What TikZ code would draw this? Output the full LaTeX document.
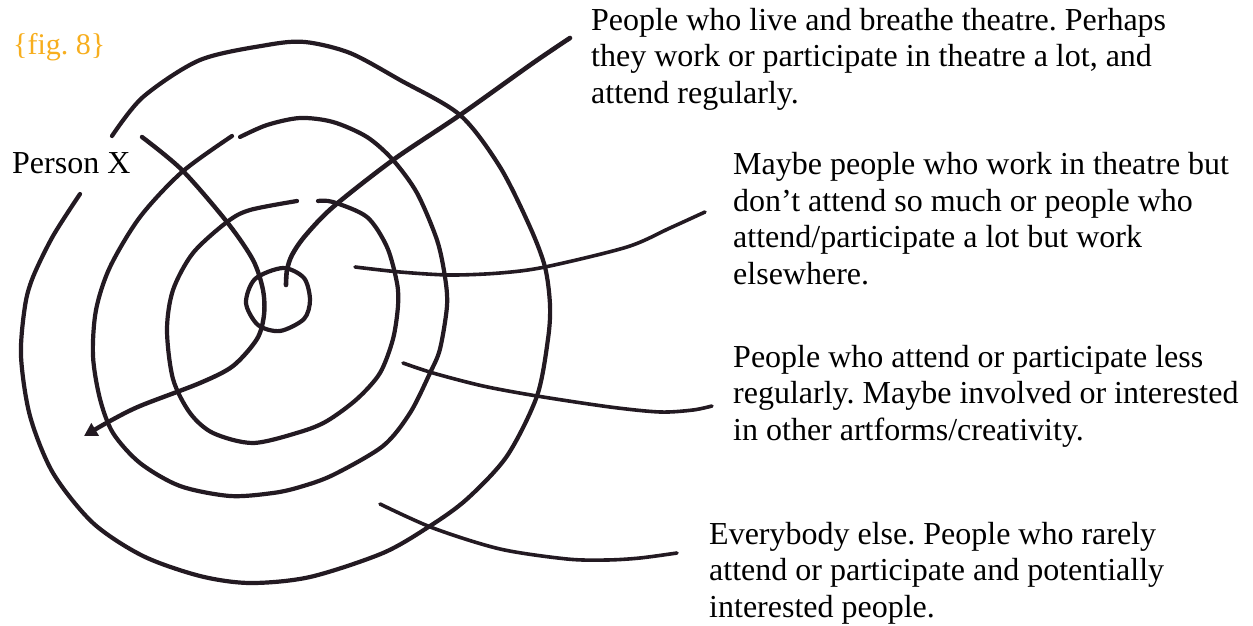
\documentclass[tikz,border=0pt]{standalone}
\usepackage{fontspec}
\setmainfont{Liberation Serif}
\usetikzlibrary{arrows.meta}
\definecolor{ink}{HTML}{231A22}
\definecolor{figorange}{HTML}{F7AE1E}
\frenchspacing
\begin{document}
\begin{tikzpicture}[x=1pt,y=-1pt,
  ring/.style={draw=ink,line width=4.2pt,line cap=round},
  lead/.style={draw=ink,line width=3.6pt,line cap=round},
  txt/.style={anchor=base west,align=left,inner sep=0pt,font=\fontsize{32}{36.5}\selectfont\frenchspacing}]
\useasboundingbox (0,0) rectangle (1253,626);
% texts (base anchor = baseline of the last line)
\node[txt,text=figorange,font=\fontsize{30}{36}\selectfont] (fig) at (13,55) {\{fig. 8\}};
\node[txt] (px) at (12,173) {Person X};
\node[txt] (t1) at (591,103) {People who live and breathe theatre. Perhaps\\they work or participate in theatre a lot, and\\attend regularly.};
\node[txt] (t2) at (733,284) {Maybe people who work in theatre but\\don’t attend so much or people who\\attend/participate a lot but work\\elsewhere.};
\node[txt] (t3) at (733,440) {People who attend or participate less\\regularly. Maybe involved or interested\\in other artforms/creativity.};
\node[txt] (t4) at (709,617) {Everybody else. People who rarely\\attend or participate and potentially\\interested people.};
% outer ring
\draw[ring] plot[smooth] coordinates {(80,194) (53,236) (33,277) (25,306) (21,356) (30,416) (53,473) (93,523) (143,556) (200,576) (250,583) (310,577) (383,553) (430,526) (467,499) (507,456) (537,396) (548,339) (550,305) (545,267) (530,227) (500,167) (460,115) (400,80) (350,53) (305,42) (267,45) (200,60) (143,97) (112,136)};
% middle ring
\draw[ring] plot[smooth] coordinates {(232,136) (182,172) (140,217) (110,267) (96,310) (93,356) (100,399) (113,433) (140,463) (180,486) (230,496) (273,493) (300,487) (333,475) (383,446) (410,413) (430,373) (440,349) (447,306) (445,277) (437,240) (417,193) (393,160) (367,137) (333,122) (300,118) (267,125) (240,137)};
% inner ring
\draw[ring] plot[smooth] coordinates {(297,201) (250,210) (227,222) (193,253) (173,290) (167,330) (173,379) (190,413) (213,433) (253,443) (300,432) (327,421) (357,399) (380,373) (393,339) (398,306) (397,283) (387,247) (367,217) (333,202) (318,201)};
% centre loop
\draw[ring] plot[smooth cycle] coordinates {(283,268) (304,278) (310,300) (304,319) (280,331) (258,325) (246,303) (255,279)};
% leader to t1 (long line into centre)
\coordinate (e1) at (570,38);
\draw[lead,line width=4.6pt] (e1) plot[smooth] coordinates {(570,38) (533,63) (460,115) (393,160) (333,207) (305,236) (292,255) (287,270) (286,285)};
% leader to t2
\coordinate (e2) at (705,212);
\draw[lead] plot[smooth] coordinates {(355,267) (400,272) (450,275) (500,273) (545,267) (627,247) (670,228) (705,212)};
% leader to t3
\coordinate (e3) at (712,406);
\draw[lead] plot[smooth] coordinates {(403,363) (433,373) (483,386) (537,396) (610,407) (660,412) (693,410) (712,406)};
% leader to t4
\coordinate (e4) at (677,553);
\draw[lead] plot[smooth] coordinates {(380,504) (433,528) (500,549) (567,559) (607,560) (640,558) (677,553)};
% Person X arrow
\draw[lead,line width=4.4pt,-{Triangle[length=13pt,width=14pt]}] plot[smooth] coordinates {(142,137) (182,170) (227,222) (253,260) (263,290) (264,315) (257,339) (233,366) (200,383) (140,406) (110,421) (84,436)};
\end{tikzpicture}
\end{document}
